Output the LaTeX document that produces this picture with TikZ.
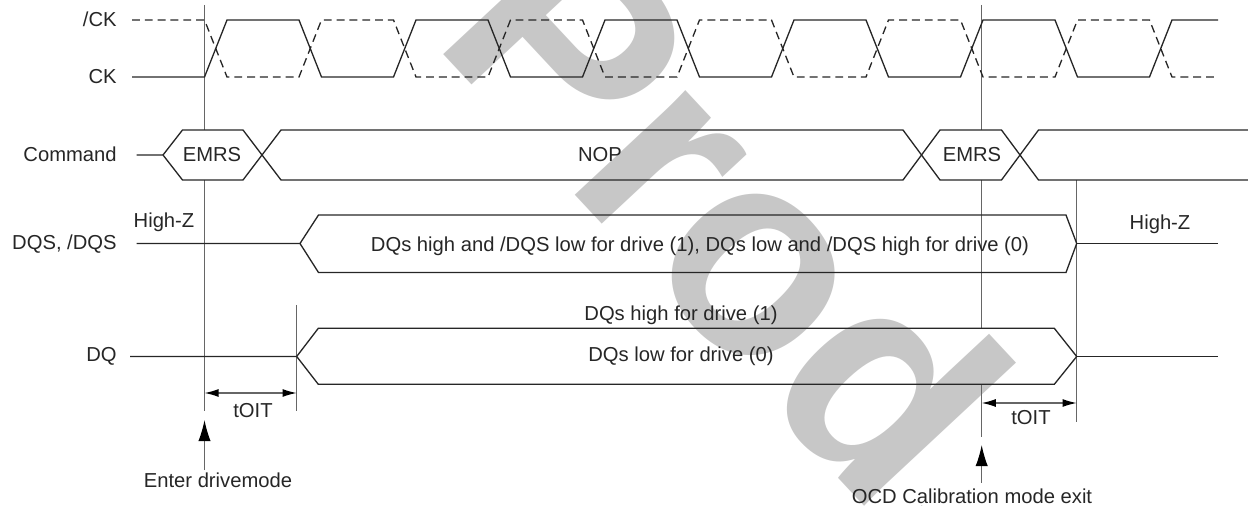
\documentclass[tikz,border=0pt]{standalone}
\usepackage{fontspec}
\setmainfont{Liberation Sans}
\usetikzlibrary{arrows.meta}

\begin{document}
\begin{tikzpicture}[
		x=0.02cm, y=-0.02cm,
		font=\fontsize{11.5}{13}\selectfont,
		declare function = {
				Th = 94.5;
				tr = 22.5;
				hi = 20;
				lo = 77;
			},
		sig/.style={black!85, line width=0.75pt, line join=miter},
		ref/.style={black!60, line width=0.6pt},
		dimarr/.style={black!60, line width=0.7pt, {Latex[black,length=8pt,width=4.5pt]}-{Latex[black,length=8pt,width=4.5pt]}},
		uparr/.style={black!60, line width=0.7pt, -{Latex[black,length=12pt,width=7pt]}},
		lbl/.style={anchor=base, inner sep=0pt, text=black!85},
		rowlbl/.style={anchor=base east, inner sep=0pt, text=black!85},
	]
	\useasboundingbox (0,0) rectangle (1248,506);
	\node[anchor=base west, rotate=-47, inner sep=0pt, text=black!22, font=\fontsize{164}{164}\selectfont\bfseries] (wm) at (430,40) {Prod.};

	\coordinate (xA) at (204.5,0);
	\coordinate (xB) at (296.7,0);
	\coordinate (xC) at (981.7,0);
	\coordinate (xD) at (1076.7,0);

	\draw[ref] (xA |- 0,5) -- (xA |- 0,130) (xA |- 0,180) -- (xA |- 0,410.7);
	\draw[ref] (xB |- 0,305) -- (xB |- 0,410.7);
	\draw[ref] (xC |- 0,5) -- (xC |- 0,130) (xC |- 0,180) -- (xC |- 0,328) (xC |- 0,384.5) -- (xC |- 0,437);
	\draw[ref] (xD |- 0,180) -- (xD |- 0,421.7);

	\node[rowlbl] (lCKn) at (117,27) {/CK};
	\node[rowlbl] (lCK) at (117,84) {CK};
	\node[rowlbl] (lCmd) at (117,162) {Command};
	\node[rowlbl] (lDQS) at (117,250) {DQS, /DQS};
	\node[rowlbl] (lDQ) at (117,362) {DQ};

	\draw[sig] (132,lo) -- (xA |- 0,lo) \foreach \k in {1,...,5} { -- ++(tr,hi-lo) -- ++(Th-tr,0) -- ++(tr,lo-hi) -- ++(Th-tr,0) } -- ++(tr,hi-lo) -- (1218,hi);
	\draw[sig, dash pattern=on 4.5pt off 2.8pt] (132,hi) -- (xA |- 0,hi) \foreach \k in {1,...,5} { -- ++(tr,lo-hi) -- ++(Th-tr,0) -- ++(tr,hi-lo) -- ++(Th-tr,0) } -- ++(tr,lo-hi) -- (1218,lo);

	\draw[sig] (136.7,155) -- (163,155) -- (182.5,130) -- (243,130) -- (262,155) -- (243,180) -- (182.5,180) -- (163,155);
	\draw[sig] (262,155) -- (281,130) -- (903,130) -- (921.5,155) -- (903,180) -- (281,180) -- cycle;
	\draw[sig] (921.5,155) -- (940,130) -- (1001.5,130) -- (1020,155) -- (1001.5,180) -- (940,180) -- cycle;
	\draw[sig] (1248,130) -- (1038.5,130) -- (1020,155) -- (1038.5,180) -- (1248,180);
	\node[lbl] (emrsA) at (212,162) {EMRS};
	\node[lbl] (nop) at (600,162) {NOP};
	\node[lbl] (emrsB) at (972,162) {EMRS};

	\draw[sig] (136.7,243.5) -- (300,243.5) -- (318.5,215) -- (1066,215) -- (xD |- 0,243.5) -- (1066,272.5) -- (318.5,272.5) -- (300,243.5);
	\draw[sig] (xD |- 0,243.5) -- (1218,243.5);
	\node[lbl] (hzL) at (164,228) {High-Z};
	\node[lbl] (hzR) at (1160,230) {High-Z};
	\node[lbl] (dqsTxt) at (700,252) {DQs high and /DQS low for drive (1), DQs low and /DQS high for drive (0)};

	\draw[sig] (130,356.5) -- (xB |- 0,356.5) -- (318.3,328.3) -- (1054.3,328.3) -- (xD |- 0,356.5) -- (1054.3,384.3) -- (318.3,384.3) -- (xB |- 0,356.5);
	\draw[sig] (xD |- 0,356.5) -- (1218,356.5);
	\node[lbl] (dqHi) at (681,321) {DQs high for drive (1)};
	\node[lbl] (dqLo) at (681,362) {DQs low for drive (0)};

	\draw[dimarr] (xA |- 0,393) -- (xB |- 0,393);
	\node[lbl] (toitL) at (253,418) {tOIT};
	\draw[dimarr] (xC |- 0,403) -- (xD |- 0,403);
	\node[lbl] (toitR) at (1031,425) {tOIT};

	\node[lbl] (enter) at (218,488) {Enter drivemode};
	\coordinate (tipA) at (204.5,420);
	\draw[uparr] ([yshift=1.7pt]enter.north -| tipA) -- (tipA);
	\node[lbl] (ocd) at (972,503) {OCD Calibration mode exit};
	\coordinate (tipC) at (981.7,445);
	\draw[uparr] ([yshift=3pt]ocd.north -| tipC) -- (tipC);
\end{tikzpicture}
\end{document}
